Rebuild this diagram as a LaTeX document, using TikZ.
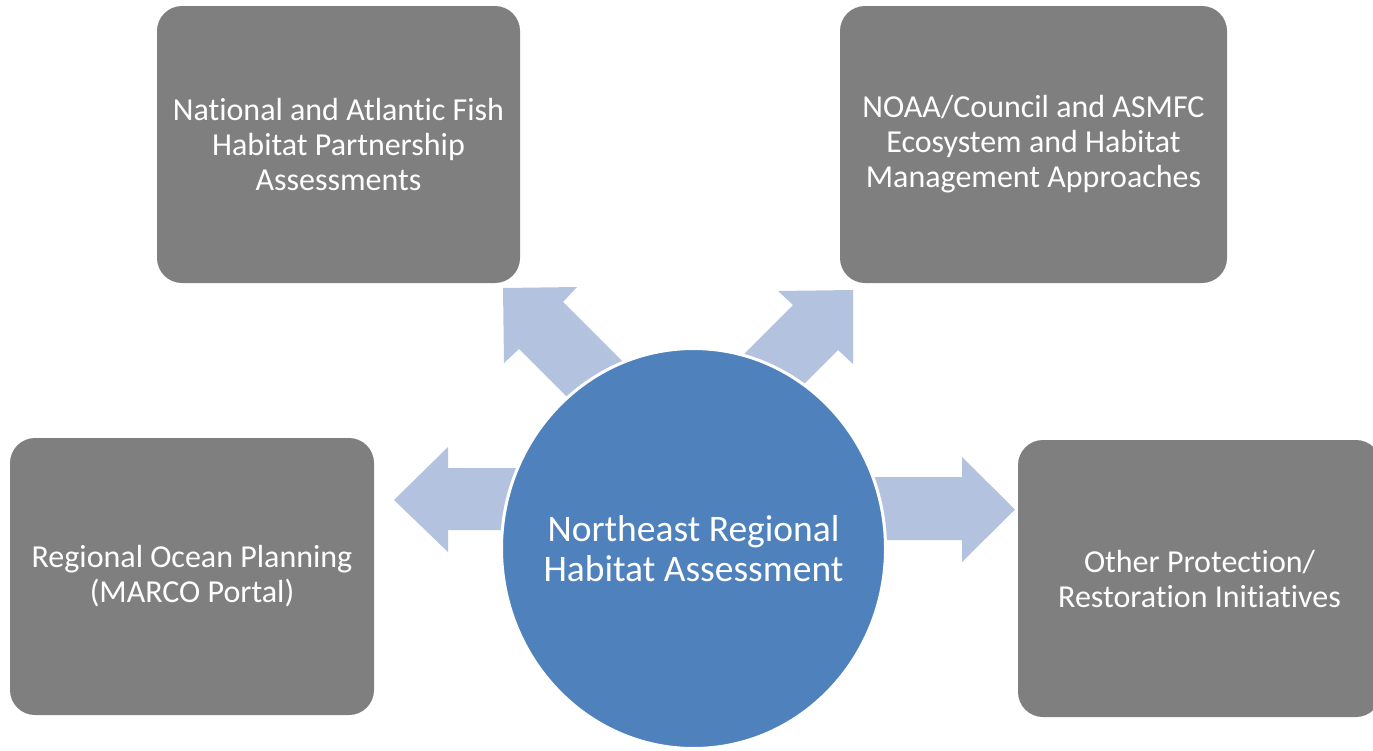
\documentclass[tikz,border=0pt]{standalone}
\usepackage{fontspec}
\setmainfont[Ligatures={NoCommon}]{Carlito}
\usetikzlibrary{shapes.geometric}
\definecolor{boxgray}{HTML}{7F7F7F}
\definecolor{arrowblue}{HTML}{B3C3DF}
\definecolor{hubblue}{HTML}{4F81BD}
\tikzset{
  infobox/.style={rectangle, rounded corners=25pt, fill=boxgray, text=white,
    minimum height=277pt, align=center, inner sep=0pt,
    font=\fontsize{32}{35}\selectfont},
  hub/.style={ellipse, fill=hubblue, draw=white, line width=3pt,
    minimum width=384pt, minimum height=400pt, inner sep=0pt},
  hubtext/.style={text=white, align=center, inner sep=0pt,
    font=\fontsize{37.5}{40}\selectfont},
  blockarrow/.style={fill=arrowblue, draw=none}
}
\begin{document}
\begin{tikzpicture}[x=1pt,y=-1pt]
\useasboundingbox (0,0) rectangle (1373,750);
\clip (0,0) rectangle (1373,750);
% boxes
\node[infobox, minimum width=363pt] (tl) at (338.5,144.5)
  {National and Atlantic Fish\\Habitat Partnership\\Assessments};
\node[infobox, minimum width=387pt] (tr) at (1033.5,144.5)
  {NOAA/Council and ASMFC\\Ecosystem and Habitat\\Management Approaches};
\node[infobox, minimum width=364pt] (lb) at (192,576.5)
  {Regional Ocean Planning\\(MARCO Portal)};
\node[infobox, minimum width=363pt] (rb) at (1199.5,578.5)
  {Other Protection/\\Restoration Initiatives};
% block arrows (behind hub)
\fill[blockarrow] (394,500) -- (448,447) -- (448,468) -- (560,468) -- (560,530)
  -- (448,530) -- (448,552) -- cycle;
\fill[blockarrow] (1015,509.5) -- (962,457) -- (962,477) -- (840,477) -- (840,540)
  -- (962,540) -- (962,562) -- cycle;
\fill[blockarrow] (503,288) -- (577,287) -- (563,302) -- (653,392) -- (609,439)
  -- (519,349) -- (504,363) -- cycle;
\fill[blockarrow] (853,290) -- (778,291) -- (793,305) -- (703,395) -- (763,425)
  -- (838,350) -- (853,364) -- cycle;
% hub
\node[hub] (hub) at (693.5,548.5) {};
\node[hubtext] (hublabel) at (hub.center) {Northeast Regional\\Habitat Assessment};
\end{tikzpicture}
\end{document}
